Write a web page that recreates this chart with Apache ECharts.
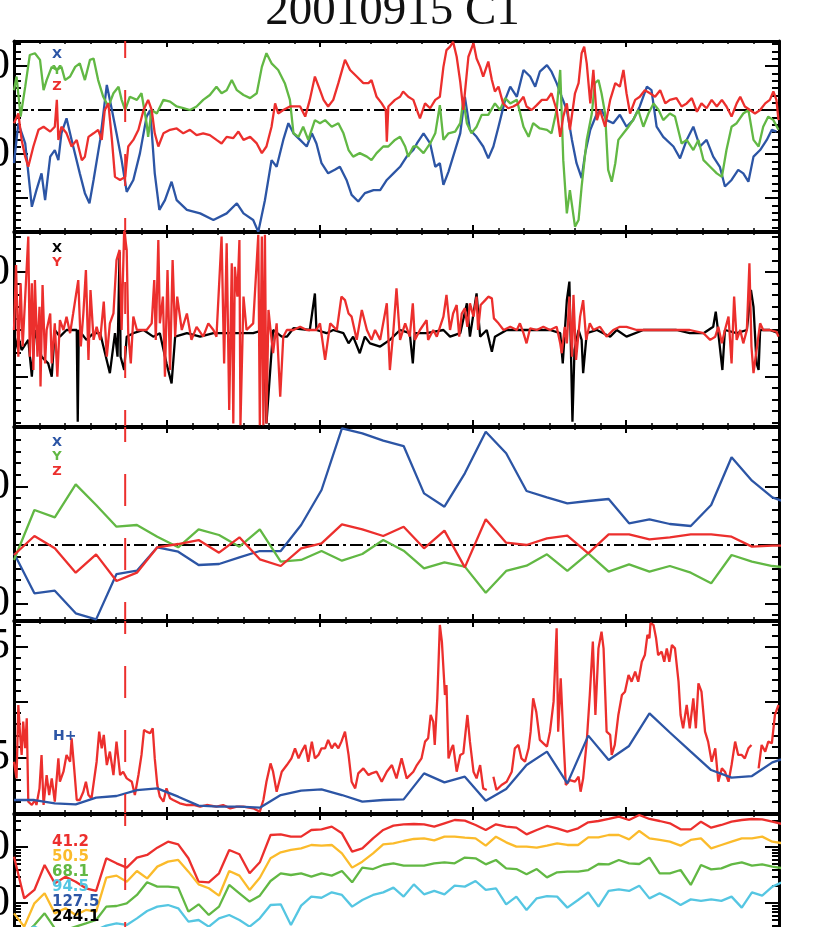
<!DOCTYPE html>
<html><head><meta charset="utf-8">
<script src="https://cdn.jsdelivr.net/npm/echarts@6/dist/echarts.min.js"></script>
<style>html,body{margin:0;padding:0;background:#fff}#c{width:833px;height:927px}</style>
</head><body><div id="c"></div><script>
// ---------- DATA ----------
const titleText = '20010915 C1';
const eventTime = 8.18;            // red dashed vertical marker (hours)
const xMin = 6, xMax = 21;         // time axis (hours)

// Panel 1: B GSM components [time, value]
const bX = [[6.00,-12.1],[6.085,-3.0],[6.22,-7.6],[6.35,-22.0],[6.44,-18.2],[6.54,-14.4],[6.61,-20.5],[6.71,-10.6],[6.80,-9.1],[6.87,-11.4],[6.93,-5.3],[7.03,-1.9],[7.13,-6.8],[7.29,-14.4],[7.39,-18.9],[7.48,-21.2],[7.56,-15.9],[7.69,-6.8],[7.82,5.7],[7.92,0],[8.01,-5.3],[8.11,-11.4],[8.21,-18.6],[8.34,-15.9],[8.47,-9.8],[8.60,-1.5],[8.67,0],[8.76,-14.4],[8.85,-22.7],[8.96,-20.5],[9.09,-16.3],[9.19,-20.5],[9.39,-22.7],[9.65,-23.5],[9.91,-25.0],[10.17,-23.5],[10.37,-21.2],[10.50,-23.5],[10.69,-25.0],[10.79,-27.7],[10.92,-20.5],[11.05,-11.4],[11.15,-12.9],[11.28,-6.8],[11.38,-3.0],[11.48,-5.3],[11.61,-6.8],[11.74,-8.3],[11.84,-5.3],[11.93,-7.6],[12.03,-12.1],[12.16,-14.4],[12.29,-13.6],[12.39,-12.9],[12.52,-15.9],[12.62,-19.3],[12.75,-20.8],[12.88,-18.9],[13.05,-18.2],[13.18,-18.2],[13.31,-15.9],[13.44,-14.4],[13.57,-12.9],[13.70,-10.6],[13.83,-9.1],[13.90,-7.6],[14.03,-5.3],[14.16,-7.6],[14.26,-12.9],[14.35,-12.1],[14.42,-17.0],[14.52,-14.0],[14.61,-10.6],[14.75,-5.3],[14.84,3.0],[14.94,-4.5],[15.07,-6.1],[15.20,-8.3],[15.30,-11.0],[15.40,-8.3],[15.50,-3.8],[15.63,2.3],[15.73,5.3],[15.86,3.0],[15.99,9.1],[16.12,7.6],[16.22,5.3],[16.31,8.7],[16.45,10.2],[16.54,8.7],[16.64,6.1],[16.74,3.0],[16.84,0],[16.94,-6.8],[17.03,-12.1],[17.13,-15.5],[17.20,-9.8],[17.30,-4.5],[17.43,-0.8],[17.52,0],[17.62,-2.3],[17.75,-3.0],[17.88,-1.1],[18.01,-3.8],[18.14,-2.3],[18.27,0.8],[18.41,5.3],[18.50,4.5],[18.60,-3.8],[18.73,-6.1],[18.93,-8.3],[19.06,-11.0],[19.19,-6.8],[19.32,-3.8],[19.45,-8.3],[19.58,-6.8],[19.71,-10.6],[19.84,-12.9],[19.94,-17.4],[20.07,-15.9],[20.20,-13.6],[20.30,-14.4],[20.40,-16.3],[20.50,-10.6],[20.63,-9.1],[20.76,-6.8],[20.86,-4.5],[20.95,-4.9]];
const bY = [[6.00,4.5],[6.05,7.6],[6.13,-1.5],[6.22,5.3],[6.31,12.5],[6.41,12.9],[6.51,11.4],[6.58,4.5],[6.64,6.8],[6.74,9.8],[6.84,9.1],[6.93,9.8],[7.00,6.8],[7.10,7.6],[7.20,9.8],[7.29,10.6],[7.39,6.8],[7.49,11.4],[7.56,11.7],[7.65,6.8],[7.75,3.0],[7.85,0.8],[7.95,3.8],[8.05,5.3],[8.11,2.3],[8.18,0],[8.27,3.0],[8.41,2.3],[8.50,3.8],[8.60,-3.0],[8.63,-6.1],[8.70,0],[8.80,-0.8],[8.93,2.3],[9.06,1.9],[9.19,0.8],[9.32,0.4],[9.45,0],[9.58,0.8],[9.71,2.3],[9.84,3.4],[9.97,5.3],[10.07,3.8],[10.17,4.5],[10.27,6.8],[10.37,4.5],[10.50,3.4],[10.63,2.7],[10.76,3.8],[10.86,9.8],[10.95,12.9],[11.05,10.6],[11.18,9.1],[11.31,6.1],[11.41,2.3],[11.48,-5.3],[11.58,-6.1],[11.67,-3.8],[11.77,-6.8],[11.90,-2.3],[12.00,-3.0],[12.10,-2.3],[12.23,-3.8],[12.36,-3.0],[12.46,-5.3],[12.56,-9.1],[12.65,-10.6],[12.78,-9.8],[12.92,-10.6],[13.01,-11.4],[13.11,-9.8],[13.24,-8.3],[13.34,-8.3],[13.47,-6.8],[13.57,-6.1],[13.67,-8.3],[13.73,-10.6],[13.83,-8.3],[13.90,-8.3],[14.03,-9.8],[14.16,-7.6],[14.26,-5.3],[14.35,1.1],[14.42,-6.8],[14.52,-5.3],[14.65,-4.9],[14.75,-3.0],[14.81,2.3],[14.88,-3.0],[14.97,-5.3],[15.07,-3.8],[15.17,-1.1],[15.30,-1.1],[15.43,1.5],[15.53,0],[15.63,2.7],[15.73,1.5],[15.86,2.3],[15.99,-3.8],[16.09,-6.1],[16.18,-3.0],[16.31,-4.2],[16.45,-4.5],[16.54,-5.3],[16.64,0],[16.71,9.1],[16.77,-11.4],[16.84,-23.5],[16.90,-18.2],[17.00,-26.5],[17.07,-25.0],[17.13,-17.4],[17.23,-6.8],[17.33,-0.8],[17.39,6.1],[17.46,6.8],[17.52,3.8],[17.59,-0.8],[17.65,-13.6],[17.72,-16.3],[17.79,-12.1],[17.85,-6.8],[17.95,-5.3],[18.05,-3.8],[18.14,-2.3],[18.24,0],[18.34,-3.8],[18.44,-0.8],[18.54,1.5],[18.64,0],[18.73,-2.3],[18.86,-0.8],[18.96,-1.5],[19.09,-7.6],[19.19,-6.8],[19.32,-9.1],[19.42,-6.8],[19.52,-11.4],[19.65,-12.9],[19.78,-14.4],[19.88,-15.2],[19.97,-9.1],[20.07,-3.8],[20.17,-3.0],[20.30,-0.8],[20.40,0],[20.50,-6.8],[20.60,-8.3],[20.69,-3.8],[20.79,-1.5],[20.89,-2.3],[20.99,-4.5]];
const bZ = [[6.00,-3.0],[6.085,-0.8],[6.15,-6.8],[6.22,-10.6],[6.28,-12.9],[6.38,-8.3],[6.48,-4.5],[6.58,-3.8],[6.71,-4.9],[6.80,-3.8],[6.84,2.3],[6.87,-6.8],[6.93,-3.8],[7.03,-5.3],[7.13,-8.3],[7.23,-6.8],[7.33,-11.4],[7.39,-10.6],[7.46,-6.1],[7.56,-5.3],[7.65,-4.5],[7.72,-6.8],[7.78,0],[7.85,1.5],[7.92,-6.8],[7.98,-15.2],[8.08,-15.9],[8.18,-15.2],[8.24,-8.3],[8.34,-6.8],[8.44,-4.5],[8.54,0],[8.63,2.3],[8.70,0],[8.76,-5.3],[8.83,-8.3],[8.93,-5.3],[9.06,-4.5],[9.19,-4.2],[9.32,-5.3],[9.45,-4.5],[9.58,-5.7],[9.71,-5.3],[9.84,-5.7],[9.97,-6.8],[10.07,-7.6],[10.17,-6.1],[10.30,-6.4],[10.40,-4.9],[10.50,-6.8],[10.63,-6.1],[10.76,-7.6],[10.86,-9.8],[10.95,-8.3],[11.05,-3.8],[11.12,1.5],[11.18,-0.8],[11.28,0],[11.41,0.8],[11.51,0.8],[11.61,0.8],[11.71,-1.5],[11.80,2.3],[11.90,7.6],[12.00,4.5],[12.07,2.3],[12.16,0.8],[12.26,2.3],[12.36,6.1],[12.49,11.4],[12.59,9.1],[12.72,7.6],[12.85,6.1],[12.95,6.1],[13.01,6.8],[13.11,3.0],[13.21,1.5],[13.29,0],[13.31,-7.2],[13.34,0.8],[13.47,2.3],[13.57,3.0],[13.63,4.2],[13.73,3.0],[13.83,2.3],[13.90,0],[13.96,-1.9],[14.06,1.5],[14.16,0.4],[14.26,2.3],[14.35,3.0],[14.42,9.8],[14.48,13.6],[14.55,14.4],[14.61,15.5],[14.68,12.1],[14.75,6.4],[14.81,0],[14.84,3.8],[14.91,12.1],[15.01,15.2],[15.07,11.7],[15.14,9.8],[15.20,7.6],[15.30,11.0],[15.37,6.8],[15.43,4.2],[15.50,5.3],[15.59,1.5],[15.69,0.4],[15.79,0.8],[15.89,1.5],[15.99,3.0],[16.05,0.8],[16.15,0],[16.25,1.1],[16.35,2.3],[16.45,2.3],[16.54,3.8],[16.64,0],[16.71,-6.1],[16.77,-1.5],[16.84,1.5],[16.90,-4.5],[17.00,3.8],[17.07,6.1],[17.13,12.9],[17.18,14.4],[17.23,10.6],[17.30,1.5],[17.36,9.1],[17.43,-2.3],[17.49,0],[17.59,-3.8],[17.69,2.3],[17.79,6.1],[17.88,5.3],[17.95,9.1],[18.01,3.8],[18.08,-0.8],[18.18,2.3],[18.27,3.0],[18.37,4.5],[18.47,3.8],[18.57,3.0],[18.67,4.5],[18.77,1.5],[18.86,2.3],[18.99,2.7],[19.09,0.8],[19.19,1.5],[19.29,2.7],[19.39,-0.4],[19.48,1.5],[19.58,0.4],[19.68,2.3],[19.78,0.8],[19.88,2.3],[19.97,0.8],[20.07,-1.5],[20.17,1.5],[20.24,3.0],[20.33,0.8],[20.43,0],[20.53,-0.8],[20.63,0],[20.73,1.5],[20.82,2.3],[20.89,4.2],[20.95,2.3],[20.99,-2.3]];

// Panel 2: E components X (black) and Y (red) [time, value]
const eX = [[6.00,-8.0],[6.085,-2.3],[6.15,-6.9],[6.28,-3.4],[6.35,-16.1],[6.41,0],[6.54,-9.2],[6.67,-11.5],[6.74,-16.1],[6.80,0],[6.90,-2.3],[7.03,0],[7.23,0],[7.25,-31.6],[7.27,0],[7.42,-3.4],[7.56,-1.1],[7.69,-1.1],[7.88,-14.9],[7.98,-1.1],[8.03,-9.2],[8.07,27.0],[8.09,-9.2],[8.16,-13.8],[8.21,-2.3],[8.34,-1.1],[8.54,0],[8.73,-2.3],[8.86,-1.1],[8.99,-11.5],[9.09,-18.4],[9.16,-2.3],[9.39,-1.1],[9.65,-2.3],[9.91,-1.1],[10.30,-1.1],[10.69,-1.1],[10.89,0],[10.95,-32.2],[11.08,0],[11.25,-2.3],[11.35,-2.3],[11.48,0.6],[11.80,0],[11.90,12.6],[11.93,0],[12.13,-1.1],[12.26,0],[12.46,-1.1],[12.56,-4.6],[12.65,-2.3],[12.78,-8.0],[12.88,-2.3],[12.98,-4.6],[13.18,-5.7],[13.37,-3.4],[13.57,0],[13.76,-1.1],[13.82,-11.5],[13.86,-1.1],[14.09,-1.1],[14.42,0],[14.55,-2.3],[14.75,-1.1],[14.88,9.2],[14.94,-2.3],[15.07,12.6],[15.14,-2.3],[15.27,0],[15.33,-4.6],[15.37,-7.5],[15.43,-2.3],[15.66,0],[15.99,0],[16.51,0],[16.71,-1.1],[16.76,-11.5],[16.84,10.3],[16.89,16.7],[16.92,-6.9],[16.95,-31.6],[16.99,-6.9],[17.07,0],[17.13,-3.4],[17.16,-14.9],[17.23,-1.1],[17.43,0],[17.69,-2.3],[17.82,0],[18.01,-2.3],[18.34,0],[18.99,0],[19.25,-1.1],[19.52,-1.1],[19.71,1.1],[19.76,6.3],[19.81,-1.1],[19.89,-13.8],[19.94,0],[20.17,-1.1],[20.37,0],[20.45,13.8],[20.50,8.0],[20.56,-11.5],[20.60,-13.8],[20.63,0],[20.82,0],[20.99,-1.1]];
const eY = [[6.00,0],[6.04,22.4],[6.085,-9.2],[6.13,16.1],[6.17,-5.7],[6.22,11.5],[6.28,32.2],[6.31,-9.2],[6.35,16.1],[6.38,-13.8],[6.41,17.2],[6.46,-9.2],[6.50,8.0],[6.52,-19.5],[6.56,15.5],[6.61,-11.5],[6.64,0],[6.71,5.7],[6.74,-11.5],[6.80,2.3],[6.85,-16.1],[6.90,3.4],[6.97,0],[7.03,4.6],[7.10,-1.1],[7.16,5.7],[7.26,17.2],[7.31,-5.7],[7.36,5.7],[7.41,20.7],[7.46,-10.3],[7.50,13.8],[7.56,-3.4],[7.62,1.1],[7.69,-3.4],[7.76,9.8],[7.82,-9.2],[7.88,2.3],[7.95,5.7],[8.01,24.1],[8.07,27.6],[8.11,0],[8.16,34.5],[8.21,27.6],[8.24,-1.1],[8.29,-11.5],[8.34,4.6],[8.41,0],[8.60,0],[8.70,2.3],[8.75,17.2],[8.78,-3.4],[8.83,31.0],[8.86,2.3],[8.92,11.5],[8.96,-16.1],[9.01,20.7],[9.06,-13.8],[9.11,24.1],[9.16,-2.3],[9.20,11.5],[9.29,0],[9.39,5.7],[9.48,-3.4],[9.58,1.1],[9.71,-2.3],[9.81,2.3],[9.91,0],[9.97,-2.3],[10.07,32.2],[10.12,-11.5],[10.17,29.9],[10.22,-27.6],[10.27,23.0],[10.30,-32.2],[10.33,21.8],[10.38,11.5],[10.42,31.0],[10.44,-32.8],[10.50,11.5],[10.56,0],[10.69,2.3],[10.79,32.8],[10.82,-32.8],[10.86,32.2],[10.89,-32.8],[10.92,32.8],[10.95,-32.2],[10.99,6.9],[11.03,0],[11.08,-8.0],[11.15,2.3],[11.22,-23.0],[11.28,-2.3],[11.35,0],[11.48,0],[11.61,1.1],[11.74,0],[11.93,0],[12.00,2.3],[12.10,-10.3],[12.20,2.3],[12.33,0],[12.42,11.5],[12.49,10.3],[12.56,5.7],[12.62,4.6],[12.72,-3.4],[12.82,6.9],[12.92,0],[13.01,-3.4],[13.08,0],[13.18,-3.4],[13.31,9.2],[13.37,-13.8],[13.44,0],[13.50,14.4],[13.57,-3.4],[13.67,2.3],[13.76,-2.3],[13.82,9.2],[13.86,-3.4],[13.96,0],[14.09,3.4],[14.12,-3.4],[14.22,0],[14.29,-2.3],[14.42,4.6],[14.48,12.1],[14.55,0],[14.61,5.7],[14.68,8.6],[14.73,-2.3],[14.78,5.7],[14.84,7.5],[14.89,1.1],[14.94,9.2],[15.01,4.6],[15.07,11.5],[15.10,0],[15.15,8.6],[15.24,10.3],[15.30,11.5],[15.37,10.9],[15.41,4.0],[15.50,2.3],[15.60,0],[15.73,1.1],[15.86,0],[15.92,2.3],[15.99,-1.1],[16.05,-4.6],[16.12,0.6],[16.25,0],[16.38,1.1],[16.51,0],[16.64,1.1],[16.71,-4.6],[16.74,-8.0],[16.80,1.1],[16.84,-4.6],[16.89,11.5],[16.94,-9.2],[16.97,12.1],[17.02,-10.3],[17.10,4.6],[17.16,10.3],[17.22,-3.4],[17.29,2.3],[17.36,0],[17.49,1.1],[17.62,-2.3],[17.75,0],[17.88,1.1],[18.01,1.1],[18.21,0],[18.47,0],[18.73,0],[18.99,0],[19.25,0],[19.52,-1.1],[19.65,-3.4],[19.75,-2.3],[19.81,1.1],[19.88,-4.6],[19.94,0],[20.01,4.6],[20.07,-11.5],[20.12,11.5],[20.17,-3.4],[20.24,0],[20.30,-4.6],[20.37,0],[20.42,23.0],[20.46,-5.7],[20.50,-14.9],[20.56,-6.9],[20.63,2.3],[20.69,0],[20.82,0],[20.95,-0.6],[20.99,-2.3]];

// Panels 3 and 4: moment times (hours)
const momTimes = [6.00,6.40,6.80,7.21,7.61,8.01,8.41,8.81,9.22,9.62,10.02,10.42,10.82,11.23,11.63,12.03,12.43,12.83,13.24,13.64,14.04,14.44,14.84,15.25,15.65,16.05,16.45,16.85,17.26,17.66,18.06,18.46,18.86,19.27,19.67,20.07,20.47,20.87,21.28];
// Panel 3: velocity components
const vX = [-14.2,-82.6,-78.1,-116.8,-127.1,-49.6,-43.9,-4.0,-11.4,-34.2,-32.5,-21.1,-10.3,-10.3,34.2,94.0,199.4,190.9,178.3,169.2,88.3,65.5,122.5,193.7,156.7,92.3,81.5,71.2,75.2,78.6,37.0,43.9,35.9,32.5,68.4,149.9,110.0,81.5,68];
const vY = [-25.6,59.8,47.3,103.7,68.4,31.3,34.2,14.2,-4.0,26.8,17.1,-2.8,26.8,-28.5,-25.6,-10.3,-26.8,-15.4,8.5,-9.7,-39.9,-29.6,-37.0,-81.5,-44.4,-35.3,-16.0,-44.4,-14.2,-45.6,-33.0,-45.6,-35.9,-47.3,-65.5,-17.1,-28.5,-35.9,-40];
const vZ = [-17.1,15.4,-5.7,-47.3,-16.0,-61.5,-47.3,-4.0,1.7,8.5,-13.1,13.1,-24.5,-35.9,-5.7,2.8,35.3,26.8,15.4,31.3,-5.7,24.5,-38.2,43.9,4.0,0,11.4,16.0,-14.2,18.2,18.2,9.7,13.1,18.2,18.2,14.2,-2.8,-1.1,-1];
// Panel 4: densities
const nH = [0.117,0.117,0.087,0.078,0.138,0.153,0.207,0.222,0.147,0.066,0.057,0.057,0.048,0.162,0.201,0.213,0.162,0.102,0.117,0.123,0.357,0.276,0.327,0.111,0.216,0.432,0.553,0.267,0.697,0.477,0.604,0.898,0.725,0.553,0.387,0.318,0.333,0.456,0.52];
const nE = [[6.00,0.462],[6.05,0.312],[6.085,0.973],[6.12,0.703],[6.15,0.523],[6.18,0.823],[6.22,0.583],[6.25,0.853],[6.28,0.102],[6.35,0.072],[6.41,0.117],[6.44,0.072],[6.50,0.222],[6.54,0.523],[6.58,0.072],[6.64,0.342],[6.69,0.162],[6.74,0.312],[6.80,0.102],[6.87,0.492],[6.90,0.282],[6.97,0.372],[7.03,0.523],[7.10,0.462],[7.13,0.673],[7.18,0.402],[7.23,0.117],[7.29,0.117],[7.36,0.192],[7.41,0.282],[7.46,0.162],[7.52,0.132],[7.62,0.462],[7.67,0.733],[7.72,0.583],[7.76,0.703],[7.82,0.432],[7.88,0.553],[7.95,0.342],[8.01,0.643],[8.08,0.342],[8.14,0.372],[8.21,0.312],[8.31,0.282],[8.37,0.162],[8.44,0.342],[8.50,0.523],[8.55,0.748],[8.60,0.733],[8.67,0.718],[8.72,0.763],[8.76,0.492],[8.81,0.252],[8.86,0.147],[8.93,0.102],[8.99,0.222],[9.06,0.132],[9.12,0.117],[9.25,0.087],[9.39,0.072],[9.52,0.072],[9.65,0.057],[9.78,0.072],[9.97,0.057],[10.10,0.072],[10.24,0.042],[10.37,0.057],[10.50,0.057],[10.69,0.042],[10.82,0.012],[10.89,0.117],[10.95,0.282],[11.03,0.447],[11.08,0.372],[11.15,0.192],[11.25,0.372],[11.35,0.432],[11.44,0.492],[11.51,0.583],[11.58,0.492],[11.64,0.553],[11.71,0.613],[11.77,0.462],[11.84,0.643],[11.90,0.492],[11.97,0.523],[12.03,0.583],[12.10,0.583],[12.16,0.658],[12.23,0.583],[12.29,0.628],[12.36,0.583],[12.42,0.643],[12.49,0.733],[12.56,0.523],[12.62,0.282],[12.69,0.222],[12.75,0.357],[12.85,0.402],[12.95,0.342],[13.01,0.357],[13.11,0.372],[13.21,0.282],[13.31,0.372],[13.41,0.432],[13.50,0.312],[13.60,0.492],[13.70,0.312],[13.83,0.372],[13.90,0.432],[13.99,0.492],[14.06,0.643],[14.12,0.673],[14.17,0.883],[14.22,0.823],[14.25,0.613],[14.30,1.033],[14.35,1.694],[14.39,1.544],[14.45,1.063],[14.48,1.153],[14.52,0.492],[14.58,0.583],[14.61,0.613],[14.68,0.372],[14.75,0.523],[14.81,0.538],[14.89,0.883],[14.94,0.643],[15.01,0.372],[15.07,0.312],[15.14,0.432],[15.20,0.222],[15.27,0.207],[15.33,'-'],[15.40,0.327],[15.46,0.207],[15.56,0.252],[15.66,0.282],[15.76,0.372],[15.82,0.583],[15.89,0.613],[15.95,0.492],[16.02,0.462],[16.09,0.583],[16.13,0.733],[16.18,1.033],[16.24,0.913],[16.31,0.658],[16.38,0.628],[16.45,0.598],[16.51,0.733],[16.58,1.003],[16.64,1.664],[16.67,0.733],[16.72,1.213],[16.77,0.703],[16.82,0.252],[16.90,0.297],[17.00,0.282],[17.07,0.327],[17.11,0.192],[17.16,0.312],[17.23,0.643],[17.29,1.063],[17.35,1.544],[17.40,0.883],[17.46,1.483],[17.52,1.634],[17.56,1.483],[17.62,0.733],[17.69,0.703],[17.72,0.523],[17.78,0.613],[17.85,0.883],[17.92,1.063],[17.98,1.093],[18.05,1.243],[18.11,1.183],[18.18,1.273],[18.24,1.183],[18.31,1.363],[18.37,1.423],[18.42,1.604],[18.46,1.574],[18.48,1.709],[18.54,1.694],[18.59,1.574],[18.63,1.423],[18.70,1.453],[18.75,1.363],[18.80,1.483],[18.85,1.363],[18.90,1.514],[18.96,1.483],[19.03,1.183],[19.07,0.883],[19.12,0.763],[19.19,0.973],[19.25,0.763],[19.32,1.033],[19.37,0.763],[19.42,1.168],[19.48,1.093],[19.55,0.733],[19.61,0.643],[19.68,0.462],[19.75,0.583],[19.81,0.282],[19.88,0.402],[19.94,0.372],[20.01,0.282],[20.07,0.432],[20.14,0.643],[20.20,0.523],[20.27,0.523],[20.33,0.492],[20.40,0.583],[20.46,0.613],[20.53,'-'],[20.60,0.402],[20.66,0.613],[20.73,0.553],[20.79,0.643],[20.86,0.628],[20.92,0.883],[20.99,0.973]];

// Panel 5: energetic particle flux per energy channel (keV)
const rapidTimes = [6.00,6.20,6.40,6.60,6.80,7.01,7.21,7.41,7.61,7.81,8.01,8.21,8.41,8.61,8.81,9.02,9.22,9.42,9.62,9.82,10.02,10.22,10.42,10.62,10.82,11.03,11.23,11.43,11.63,11.83,12.03,12.23,12.43,12.63,12.83,13.04,13.24,13.44,13.64,13.84,14.04,14.24,14.44,14.64,14.84,15.05,15.25,15.45,15.65,15.85,16.05,16.25,16.45,16.65,16.85,17.06,17.26,17.46,17.66,17.86,18.06,18.26,18.46,18.66,18.86,19.07,19.27,19.47,19.67,19.87,20.07,20.27,20.47,20.67,20.87,21.08];
const channelLabels = ['41.2','50.5','68.1','94.5','127.5','244.1'];
const f41 = [671,121,171,477,224,295,240,183,164,628,511,428,646,720,973,1245,1116,628,240,234,339,884,740,339,532,1637,1683,1530,1530,2012,2067,2307,1754,826,946,1428,2012,2404,2541,2574,2541,2307,2646,3034,2951,2471,2012,2541,2307,2215,1683,2012,2371,2153,1879,2153,2757,2911,3162,3483,3034,3727,3162,2911,2646,2067,2067,2833,2215,2471,2833,3034,3162,3119,2833,2541];
const f50 = [65.3,37.8,98.6,149,65.3,80.4,61.1,75.0,70.0,283,308,240,373,275,446,547,586,363,215,183,135,373,308,171,283,628,803,884,946,1086,1057,1086,771,428,547,771,1116,1163,1279,1390,1428,1315,1530,1530,1468,1428,1057,1530,1211,1014,1014,973,1057,1163,1086,1086,1489,1489,1637,1637,1370,1931,1428,1334,1245,1057,1334,1428,946,1086,1245,1428,1428,1530,1245,1163];
const f68 = [33.0,26.8,40.5,65.3,35.3,33.0,37.8,43.3,49.7,86.1,88.4,98.6,139,234,196,196,188,70.0,94.7,61.1,86.1,210,149,106,135,247,339,316,339,295,339,308,373,234,428,404,477,511,464,464,464,511,532,511,646,628,490,586,416,404,325,404,287,353,363,363,388,497,490,586,511,497,646,339,339,388,210,477,399,416,490,532,464,490,446,416];
const f94 = [23.4,30.8,37.8,30.8,23.4,25.1,26.8,28.7,33.0,39.4,43.3,40.5,53.2,71.9,86.1,92.0,80.4,46.4,49.7,37.8,53.2,61.1,49.7,37.8,53.2,92.0,94.7,40.5,89.6,130,124,155,139,86.1,113,139,155,188,130,215,143,164,143,204,196,247,171,183,94.7,130,75.0,121,133,130,82.6,113,155,86.1,164,175,164,204,121,149,121,92.0,116,109,116,109,130,82.6,155,135,196,240];

// ---------- STYLE ----------
const C = {blue:'#2c55a5', green:'#62b844', red:'#ec2f2d', yellow:'#fbbb2b', cyan:'#55c6e2', black:'#000'};
const serif = '"Liberation Serif","DejaVu Serif",serif';
const sansB = '"DejaVu Sans",sans-serif';
const LW = 2.3;

function range(a, b, step) { const r = []; for (let k = Math.round(a/step); k*step <= b + 1e-9; k++) r.push(+(k*step).toFixed(6)); return r; }
const logMinor = []; [1,10,100,1000].forEach(d => { for (let k = 2; k <= 9; k++) logMinor.push(Math.log10(k*d)); });

const panels = [
  {top:41, height:190, dmin:-27.5, dmax:15.68, tmin:-27.5, tmax:15.68, major:[-20,-10,0,10], labels:[-10,10], minor:range(-26.7,15.6,10/6), fmt:v=>String(Math.round(v))},
  {top:232, height:194, dmin:-33.1, dmax:33.79, tmin:-33.1, tmax:33.79, major:[-16,20], labels:[20], minor:range(-32,32,4), fmt:v=>String(Math.round(v))},
  {top:427, height:193, dmin:-128.2, dmax:201.7, tmin:-128.2, tmax:201.7, major:[-100,0,100,200], labels:[-100,100], minor:range(-120,200,20), fmt:v=>String(Math.round(v))},
  {top:621, height:192, dmin:0, dmax:1.7297, tmin:0, tmax:1.7297, major:[0.5,1,1.5], labels:[0.5,1.5], minor:range(0.1,1.7,0.1), fmt:v=>v.toFixed(1)},
  {top:814, height:192, log:true, dmin:1.4477, dmax:3881.6, tmin:0.1607, tmax:3.589, major:[1,2,3], labels:[2,3], minor:logMinor, fmt:v=>String(Math.round(Math.pow(10,v)))}
];

const grids = [], xAxes = [], yAxes = [], dataY = [];
panels.forEach((p, g) => {
  grids.push({left:14, width:765, top:p.top, height:p.height, containLabel:false, outerBoundsMode:'none', show:false});
  ['bottom','top'].forEach(pos => xAxes.push({
    type:'value', gridIndex:g, position:pos, min:xMin, max:xMax, interval:3,
    axisLine:{show:true, onZero:false, lineStyle:{color:'#000', width:3}},
    axisTick:{show:true, inside:true, length:6, lineStyle:{color:'#000', width:2}},
    minorTick:{show:true, splitNumber:6, length:3, lineStyle:{color:'#000', width:1.5}},
    axisLabel:{show:false}, splitLine:{show:false}, minorSplitLine:{show:false}
  }));
  dataY.push(yAxes.length);
  yAxes.push(p.log ? {type:'log', logBase:10, gridIndex:g, show:false, min:p.dmin, max:p.dmax}
                   : {type:'value', gridIndex:g, show:false, min:p.dmin, max:p.dmax});
  ['left','right'].forEach(pos => {
    yAxes.push({type:'value', gridIndex:g, position:pos, min:p.tmin, max:p.tmax,
      axisLine:{show:true, onZero:false, lineStyle:{color:'#000', width:3}},
      axisTick:{show:true, inside:true, length:14, customValues:p.major, lineStyle:{color:'#000', width:2}},
      axisLabel:{show:pos==='left', customValues:p.labels, margin:4, color:'#000', fontFamily:serif, fontSize:44, formatter:p.fmt},
      splitLine:{show:false}});
    yAxes.push({type:'value', gridIndex:g, position:pos, min:p.tmin, max:p.tmax,
      axisLine:{show:false, onZero:false},
      axisTick:{show:true, inside:true, length:7, customValues:p.minor, lineStyle:{color:'#000', width:2}},
      axisLabel:{show:false}, splitLine:{show:false}});
  });
});

const series = [];
function addLine(g, data, color, width, extra) {
  series.push(Object.assign({type:'line', xAxisIndex:2*g, yAxisIndex:dataY[g], data, showSymbol:false, symbol:'none',
    connectNulls:false, silent:true, animation:false, lineStyle:{color, width:width||LW}, itemStyle:{color}}, extra||{}));
}
const zip = (ts, vs) => ts.map((t, i) => [t, vs[i]]);
const dashDot = {lineStyle:{color:'#000', width:2, type:[13,4,3,4]}};

// panel 1
addLine(0, [[xMin,0],[xMax,0]], '#000', 2, dashDot);
addLine(0, bX, C.blue); addLine(0, bY, C.green); addLine(0, bZ, C.red);
// panel 2
addLine(1, eX, C.black); addLine(1, eY, C.red);
// panel 3
addLine(2, [[xMin,0],[xMax,0]], '#000', 2, dashDot);
addLine(2, zip(momTimes, vX), C.blue); addLine(2, zip(momTimes, vY), C.green); addLine(2, zip(momTimes, vZ), C.red);
// panel 4
addLine(3, nE, C.red); addLine(3, zip(momTimes, nH), C.blue);
// panel 5
addLine(4, zip(rapidTimes, f41), C.red); addLine(4, zip(rapidTimes, f50), C.yellow);
addLine(4, zip(rapidTimes, f68), C.green); addLine(4, zip(rapidTimes, f94), C.cyan);
// event marker (dashed red vertical) in every panel
const dashOff = [15, 14, 17, 19, 20];
panels.forEach((p, g) => addLine(g, [[eventTime, p.dmax], [eventTime, p.dmin]], C.red, 2,
  {z:5, lineStyle:{color:C.red, width:2, type:[32,32], dashOffset:dashOff[g]}}));

function txt(text, x, y, color, size, align) {
  return {type:'text', z:100, silent:true, style:{text, x, y, fill:color, font:'bold '+size+'px '+sansB, align:align||'center', verticalAlign:'middle'}};
}
const graphics = [
  {type:'text', z:100, silent:true, style:{text:titleText, x:392.5, y:11.5, fill:'#111', font:'47px '+serif, align:'center', verticalAlign:'middle'}},
  txt('X', 57, 55, C.blue, 13), txt('Y', 57, 71, C.green, 13), txt('Z', 57, 87, C.red, 13),
  txt('X', 57, 249, C.black, 13), txt('Y', 57, 263, C.red, 13),
  txt('X', 57, 443, C.blue, 13), txt('Y', 57, 457, C.green, 13), txt('Z', 57, 472, C.red, 13),
  txt('H+', 53, 736, C.blue, 14, 'left')
];
const chanColors = [C.red, C.yellow, C.green, C.cyan, C.blue, C.black];
channelLabels.forEach((s, i) => graphics.push(txt(s, 52, 842 + 15*i, chanColors[i], 15, 'left')));

const chart = echarts.init(document.getElementById('c'), null, {renderer:'canvas'});
chart.setOption({animation:false, backgroundColor:'#fff', grid:grids, xAxis:xAxes, yAxis:yAxes, series, graphic:graphics});
</script></body></html>
